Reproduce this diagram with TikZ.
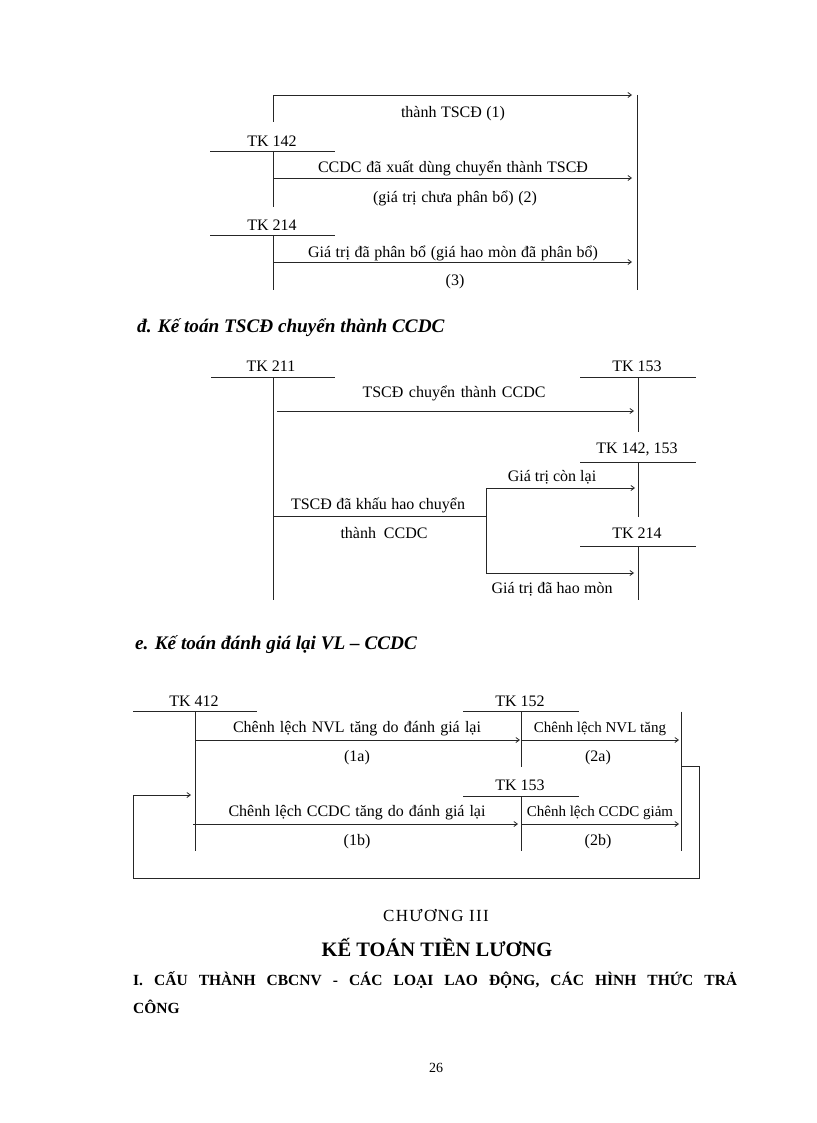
\documentclass[tikz,border=0pt]{standalone}
\usepackage{fontspec}
\setmainfont{Liberation Serif}
\usetikzlibrary{arrows.meta}
\newcommand{\wbox}[2]{\makebox[#1pt][s]{#2}}
\begin{document}
\begin{tikzpicture}[x=1pt,y=-1pt,
  ln/.style={line width=0.8pt,black!85},
  arr/.style={ln,-{Straight Barb[length=3.5pt,width=5pt]}},
  lbl/.style={inner sep=0pt,font=\fontsize{16}{18}\selectfont},
  lbls/.style={inner sep=0pt,font=\fontsize{15}{18}\selectfont},
  head/.style={inner sep=0pt,anchor=west,font=\fontsize{19.2}{22}\selectfont\bfseries\itshape}]
\useasboundingbox[fill=white] (0,0) rectangle (816,1123);

% ---------- top section ----------
\coordinate (v0t) at (273,95);
\coordinate (v0b) at (273,122);
\coordinate (r0t) at (637,95);
\coordinate (r0b) at (637,290);
\coordinate (a1e) at (632,95);
\draw[ln] (v0b) -- (v0t);
\draw[arr] (v0t) -- (a1e);
\draw[ln] (r0t) -- (r0b);
\node[lbl] (t1) at (453,114) {\wbox{104}{thành TSCĐ (1)}};

\node[lbl] (tk142) at (272,141) {TK 142};
\coordinate (h142l) at (210,151); \coordinate (h142r) at (335,151);
\draw[ln] (h142l) -- (h142r);
\coordinate (v142t) at (273,151); \coordinate (v142b) at (273,207);
\draw[ln] (v142t) -- (v142b);
\coordinate (a2s) at (273,178); \coordinate (a2e) at (632,178);
\draw[arr] (a2s) -- (a2e);
\node[lbl] (t2a) at (453,168) {\wbox{270}{CCDC đã xuất dùng chuyển thành TSCĐ}};
\node[lbl] (t2b) at (455,198) {\wbox{164}{(giá trị chưa phân bổ) (2)}};

\node[lbl] (tk214a) at (272,225) {TK 214};
\coordinate (h214l) at (210,235); \coordinate (h214r) at (335,235);
\draw[ln] (h214l) -- (h214r);
\coordinate (v214t) at (273,235); \coordinate (v214b) at (273,290);
\draw[ln] (v214t) -- (v214b);
\coordinate (a3s) at (273,262); \coordinate (a3e) at (632,262);
\draw[arr] (a3s) -- (a3e);
\node[lbl] (t3a) at (453,253) {\wbox{290}{Giá trị đã phân bổ (giá hao mòn đã phân bổ)}};
\node[lbl] (t3b) at (455,282) {(3)};

% ---------- section d ----------
\node[head] (hd) at (137,328) {đ. Kế toán TSCĐ chuyển thành CCDC};

\node[lbl] (tk211) at (271,366) {TK 211};
\coordinate (h211l) at (211,377); \coordinate (h211r) at (335,377);
\draw[ln] (h211l) -- (h211r);
\coordinate (v211t) at (273,377); \coordinate (v211b) at (273,600);
\draw[ln] (v211t) -- (v211b);

\node[lbl] (tk153d) at (637,366) {TK 153};
\coordinate (h153l) at (580,377); \coordinate (h153r) at (696,377);
\draw[ln] (h153l) -- (h153r);
\coordinate (v153t) at (638,377); \coordinate (v153b) at (638,432);
\draw[ln] (v153t) -- (v153b);
\coordinate (d1s) at (277,411); \coordinate (d1e) at (634,411);
\draw[arr] (d1s) -- (d1e);
\node[lbl] (td1) at (454,393) {\wbox{183}{TSCĐ chuyển thành CCDC}};

\node[lbl] (tk142d) at (637,449) {TK 142, 153};
\coordinate (h142dl) at (580,462); \coordinate (h142dr) at (696,462);
\draw[ln] (h142dl) -- (h142dr);
\coordinate (v142dt) at (638,462); \coordinate (v142db) at (638,517);
\draw[ln] (v142dt) -- (v142db);

\coordinate (brs) at (273,516); \coordinate (brm) at (486,516);
\draw[ln] (brs) -- (brm);
\node[lbl] (tbr1) at (378,505) {\wbox{174}{TSCĐ đã khấu hao chuyển}};
\node[lbl] (tbr2) at (384,533) {\wbox{87}{thành CCDC}};
\coordinate (bvt) at (486,488); \coordinate (bvb) at (486,573);
\draw[ln] (bvt) -- (bvb);
\coordinate (d2e) at (635,488);
\draw[arr] (bvt) -- (d2e);
\node[lbl] (td2) at (552,477) {Giá trị còn lại};

\node[lbl] (tk214d) at (637,533) {TK 214};
\coordinate (h214dl) at (580,546); \coordinate (h214dr) at (696,546);
\draw[ln] (h214dl) -- (h214dr);
\coordinate (v214dt) at (638,546); \coordinate (v214db) at (638,600);
\draw[ln] (v214dt) -- (v214db);
\coordinate (d3e) at (634,573);
\draw[arr] (bvb) -- (d3e);
\node[lbl] (td3) at (552,589) {\wbox{121}{Giá trị đã hao mòn}};

% ---------- section e ----------
\node[head] (he) at (135,645) {e. Kế toán đánh giá lại VL – CCDC};

\node[lbl] (tk412) at (194,701) {TK 412};
\coordinate (h412l) at (133,711.5); \coordinate (h412r) at (257,711.5);
\draw[ln] (h412l) -- (h412r);
\coordinate (v412t) at (195,711.5); \coordinate (v412b) at (195,851);
\draw[ln] (v412t) -- (v412b);

\node[lbl] (tk152) at (520,701) {TK 152};
\coordinate (h152l) at (463,711.5); \coordinate (h152r) at (579,711.5);
\draw[ln] (h152l) -- (h152r);
\coordinate (v152t) at (521,711.5); \coordinate (v152b) at (521,767);
\draw[ln] (v152t) -- (v152b);

\coordinate (vrt) at (681,711.5); \coordinate (vrb) at (681,851);
\draw[ln] (vrt) -- (vrb);

\coordinate (e1s) at (195,740); \coordinate (e1e) at (520,740);
\draw[arr] (e1s) -- (e1e);
\node[lbl] (te1a) at (357,729) {\wbox{248}{Chênh lệch NVL tăng do đánh giá lại}};
\node[lbl] (te1b) at (357,758) {(1a)};
\coordinate (e2s) at (521,740); \coordinate (e2e) at (679,740);
\draw[arr] (e2s) -- (e2e);
\node[lbls] (te2a) at (600,729) {Chênh lệch NVL tăng};
\node[lbl] (te2b) at (598,758) {(2a)};

\node[lbl] (tk153e) at (520,785) {TK 153};
\coordinate (h153el) at (463,796); \coordinate (h153er) at (579,796);
\draw[ln] (h153el) -- (h153er);
\coordinate (v153et) at (521,796); \coordinate (v153eb) at (521,851);
\draw[ln] (v153et) -- (v153eb);

\coordinate (e3s) at (193,824); \coordinate (e3e) at (518,824);
\draw[arr] (e3s) -- (e3e);
\node[lbl] (te3a) at (357,813) {\wbox{257}{Chênh lệch CCDC tăng do đánh giá lại}};
\node[lbl] (te3b) at (357,842) {(1b)};
\coordinate (e4s) at (521,824); \coordinate (e4e) at (679,824);
\draw[arr] (e4s) -- (e4e);
\node[lbls] (te4a) at (600,813) {Chênh lệch CCDC giảm};
\node[lbl] (te4b) at (598,842) {(2b)};

\coordinate (lp1) at (681,766);
\coordinate (lp2) at (699,878);
\coordinate (lp3) at (133,795);
\coordinate (lp4) at (191,795);
\draw[arr] (lp1) -| (lp2) -| (lp3) -- (lp4);

% ---------- bottom text ----------
\node[inner sep=0pt,font=\fontsize{17}{18}\selectfont\addfontfeature{LetterSpace=8}] (ch) at (436,915) {CHƯƠNG III};
\node[inner sep=0pt,font=\fontsize{20.5}{24}\selectfont\bfseries] (kt) at (437,947) {KẾ TOÁN TIỀN LƯƠNG};
\node[inner sep=0pt,anchor=west,font=\fontsize{15.5}{18}\selectfont\bfseries] (s1) at (133,980)
  {\makebox[604pt][s]{I. CẤU THÀNH CBCNV - CÁC LOẠI LAO ĐỘNG, CÁC HÌNH THỨC TRẢ}};
\node[inner sep=0pt,anchor=west,font=\fontsize{15.5}{18}\selectfont\bfseries] (s2) at (133,1007) {CÔNG};
\node[inner sep=0pt,font=\fontsize{14}{16}\selectfont] (pg) at (436,1068) {26};
\end{tikzpicture}
\end{document}
